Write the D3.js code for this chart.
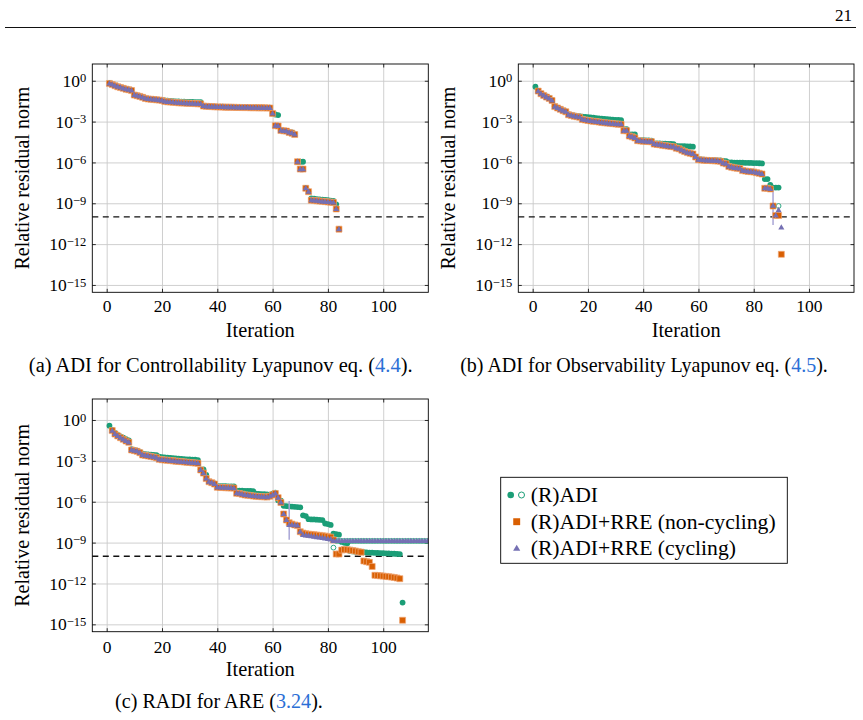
<!DOCTYPE html>
<html>
<head>
<meta charset="utf-8">
<script src="https://cdn.jsdelivr.net/npm/d3@7"></script>
<style>
  body { margin: 0; background: #fff; }
  svg { display: block; }
  text { font-family: 'Liberation Serif', 'DejaVu Serif', 'Times New Roman', serif; fill: #000; }
</style>
</head>
<body>
<svg id="page" width="863" height="720"></svg>
<script>
const colADI = '#1b9e77'
const colRRE = '#d95f02'
const colCyc = '#7570b3'
const linkBlue = '#2b6fd6'
const serif = "'Liberation Serif', 'DejaVu Serif', 'Times New Roman', serif"

const xTicks = [0, 20, 40, 60, 80, 100]
const yTickExps = [0, -3, -6, -9, -12, -15]
const tolerance = 1e-10

// values are log10 of the relative residual norm, one per iteration from *Start

// (a) controllability Lyapunov
const ctrlAdiStart = 1
const ctrlAdi = [-0.15, -0.26, -0.34, -0.42, -0.48, -0.54, -0.6, -0.64, -0.7,
  -1.03, -1.08, -1.13, -1.2, -1.28, -1.32, -1.34, -1.36, -1.38, -1.4, -1.42,
  -1.45, -1.47, -1.48, -1.5, -1.51, -1.52, -1.53, -1.54, -1.55, -1.56, -1.56, -1.57, -1.57, -1.58,
  -1.84, -1.86, -1.87, -1.88, -1.89, -1.9, -1.91, -1.91, -1.92, -1.92, -1.93, -1.93, -1.94, -1.94, -1.95, -1.95, -1.95, -1.96, -1.96, -1.96, -1.97, -1.97, -1.97, -1.98, -1.98,
  -2.4, -2.48, -2.52, -3.63, -3.66, -3.68, -3.76, -3.8, -3.9,
  -5.95, -5.95, -5.95, -7.88, -8.12,
  -8.65, -8.67, -8.69, -8.71, -8.73, -8.75, -8.77, -8.8, -8.83, -9.08, -10.9]
const ctrlRreStart = 1
const ctrlRre = [-0.2, -0.28, -0.36, -0.44, -0.5, -0.56, -0.62, -0.66, -0.72,
  -1.05, -1.1, -1.15, -1.22, -1.3, -1.34, -1.36, -1.38, -1.4, -1.42, -1.45,
  -1.52, -1.55, -1.56, -1.58, -1.6, -1.62, -1.63, -1.64, -1.65, -1.66, -1.67, -1.68, -1.69, -1.7,
  -1.86, -1.88, -1.89, -1.9, -1.91, -1.92, -1.93, -1.93, -1.94, -1.94, -1.95, -1.95, -1.96, -1.96, -1.97, -1.97, -1.97, -1.98, -1.98, -1.98, -1.99, -1.99, -1.99, -2.0, -2.0,
  -2.4, -3.3, -3.32, -3.65, -3.68, -3.7, -3.8, -3.85, -3.95,
  -5.95, -6.49, -6.49, -7.9, -8.15,
  -8.78, -8.8, -8.82, -8.84, -8.86, -8.88, -8.9, -8.92, -8.94, -9.42, -10.9]
const ctrlCycStart = 1
const ctrlCyc = [-0.2, -0.28, -0.36, -0.44, -0.5, -0.56, -0.62, -0.66, -0.72,
  -1.05, -1.1, -1.15, -1.22, -1.3, -1.34, -1.36, -1.38, -1.4, -1.42, -1.45,
  -1.52, -1.55, -1.56, -1.58, -1.6, -1.62, -1.63, -1.64, -1.65, -1.66, -1.67, -1.68, -1.69, -1.7,
  -1.86, -1.88, -1.89, -1.9, -1.91, -1.92, -1.93, -1.93, -1.94, -1.94, -1.95, -1.95, -1.96, -1.96, -1.97, -1.97, -1.97, -1.98, -1.98, -1.98, -1.99, -1.99, -1.99, -2.0, -2.0,
  -2.4, -3.3, -3.32, -3.65, -3.68, -3.7, -3.8, -3.85, -3.95,
  -5.95, -6.49, -6.49, -7.9, -8.15,
  -8.78, -8.8, -8.82, -8.84, -8.86, -8.88, -8.9, -8.92, -8.94, -9.42, -10.9]
const ctrlOpenIter = []
const ctrlOpen = []
const ctrlSpikes = []

// (b) observability Lyapunov
const obsAdiStart = 1
const obsAdi = [-0.44,
  -0.74, -0.93, -1.05, -1.15, -1.25, -1.4,
  -1.88, -1.98, -2.08, -2.18, -2.25,
  -2.45, -2.5, -2.55, -2.58, -2.6,
  -2.64, -2.66, -2.68, -2.7, -2.72, -2.74, -2.76, -2.78, -2.8, -2.82, -2.84, -2.86, -2.87, -2.88, -2.9,
  -3.55, -3.55, -3.94, -3.94, -3.95,
  -4.35, -4.36, -4.37, -4.38, -4.39, -4.4,
  -4.6, -4.6, -4.61, -4.62, -4.62, -4.63, -4.64, -4.65,
  -4.79, -4.8, -4.8, -4.81, -4.82, -4.83, -4.84,
  -5.58, -5.75,
  -5.78, -5.8, -5.81, -5.82, -5.83, -5.84, -5.85, -5.86, -5.88, -5.9,
  -6.0, -6.0, -6.01, -6.01, -6.02, -6.02, -6.03, -6.03, -6.04, -6.05, -6.05, -6.06, -6.07,
  -7.22, -7.22, -7.66, -7.85, -7.85, -7.85]
const obsRreStart = 2
const obsRre = [-0.76, -0.95, -1.08, -1.2, -1.3, -1.45,
  -1.9, -2.0, -2.1, -2.2, -2.28,
  -2.5, -2.55, -2.6, -2.64, -2.68,
  -2.84, -2.88, -2.92, -2.95, -2.98, -3.0, -3.03, -3.06, -3.09, -3.11, -3.13, -3.15, -3.17, -3.19, -3.2,
  -3.67, -3.67, -4.06, -4.12, -4.2,
  -4.4, -4.42, -4.44, -4.46, -4.47, -4.48,
  -4.65, -4.68, -4.7, -4.74, -4.77, -4.8, -4.83, -4.85,
  -4.95, -5.0, -5.1, -5.2, -5.28, -5.33, -5.38,
  -5.6, -5.8,
  -5.82, -5.84, -5.85, -5.86, -5.87, -5.88, -5.9, -5.92, -6.05, -6.1,
  -6.3, -6.35, -6.4, -6.42, -6.45,
  -6.6, -6.63, -6.66, -6.68, -6.7, -6.75, -6.8, -6.85,
  -7.9, -7.9, -7.95,
  -9.2, -9.9, -9.9, -12.75]
const obsCycStart = 2
const obsCyc = [-0.76, -0.95, -1.08, -1.2, -1.3, -1.45,
  -1.9, -2.0, -2.1, -2.2, -2.28,
  -2.5, -2.55, -2.6, -2.64, -2.68,
  -2.84, -2.88, -2.92, -2.95, -2.98, -3.0, -3.03, -3.06, -3.09, -3.11, -3.13, -3.15, -3.17, -3.19, -3.2,
  -3.67, -3.67, -4.06, -4.12, -4.2,
  -4.4, -4.42, -4.44, -4.46, -4.47, -4.48,
  -4.65, -4.68, -4.7, -4.74, -4.77, -4.8, -4.83, -4.85,
  -4.95, -5.0, -5.1, -5.2, -5.28, -5.33, -5.38,
  -5.6, -5.8,
  -5.82, -5.84, -5.85, -5.86, -5.87, -5.88, -5.9, -5.92, -6.05, -6.1,
  -6.3, -6.35, -6.4, -6.42, -6.45,
  -6.6, -6.63, -6.66, -6.68, -6.7, -6.75, -6.8, -6.85,
  -7.9, -7.9, -7.95,
  -9.17, -9.9, -9.5, -10.77]
const obsOpenIter = [89]
const obsOpen = [-9.2]
const obsSpikes = [[87, -7.9, -10.6]]

// (c) RADI for ARE
const areAdiStart = 1
const areAdi = [-0.42, -0.72, -0.95, -1.1, -1.2, -1.3, -1.4, -1.5,
  -2.15, -2.2, -2.25, -2.35,
  -2.48, -2.5, -2.52, -2.54, -2.56, -2.58,
  -2.7, -2.72, -2.74, -2.76, -2.78, -2.8, -2.82, -2.84, -2.86, -2.88, -2.89, -2.9, -2.91, -2.92, -2.94,
  -3.62, -3.62, -4.04, -4.5, -4.6, -4.65,
  -4.85, -4.85, -4.86, -4.86, -4.87, -4.87, -4.88,
  -5.18, -5.18, -5.19, -5.2, -5.2, -5.21, -5.22,
  -5.4, -5.42, -5.44, -5.45, -5.47, -5.48, -5.4, -5.33,
  -5.9, -5.92,
  -6.3, -6.32, -6.34, -6.36, -6.38, -6.4, -6.42,
  -7.0, -7.05,
  -7.28, -7.3, -7.3, -7.32, -7.33, -7.35,
  -7.6, -7.64, -7.7,
  -8.35, -8.38, -8.42,
  -8.95, -9.02, -9.05,
  -9.62, -9.65, -9.67, -9.68, -9.7, -9.71, -9.72, -9.73, -9.74, -9.75, -9.76, -9.77, -9.78, -9.79, -9.8, -9.81, -9.82, -9.83, -9.84,
  -13.4]
const areRreStart = 2
const areRre = [-0.78, -1.03, -1.17, -1.3, -1.42, -1.54, -1.64,
  -2.2, -2.25, -2.3, -2.4,
  -2.57, -2.6, -2.64, -2.68, -2.72, -2.77,
  -2.89, -2.92, -2.94, -2.96, -2.98, -3.0, -3.02, -3.04, -3.06, -3.08, -3.1, -3.12, -3.14, -3.16, -3.18,
  -3.67, -3.9, -4.3, -4.53, -4.6, -4.7,
  -4.94, -4.95, -4.96, -4.97, -4.98, -4.99, -5.0,
  -5.38, -5.4, -5.45, -5.5, -5.52, -5.55, -5.58,
  -5.6, -5.62, -5.63, -5.64, -5.66, -5.6, -5.5, -5.4,
  -5.7, -6.05, -6.9, -7.34, -7.54, -7.64, -7.7, -7.75, -8.2,
  -8.3, -8.35, -8.38, -8.4, -8.42, -8.45, -8.47, -8.5, -8.52, -8.55, -8.6,
  -8.81, -9.84, -9.84, -9.55, -9.5, -9.52, -9.55, -9.58, -9.62, -9.67, -9.7,
  -10.35, -10.4, -10.45, -10.75,
  -11.4, -11.42, -11.44, -11.46, -11.48, -11.5, -11.53, -11.56, -11.6, -11.65,
  -14.7]
const areCycStart = 2
const areCyc = [-0.78, -1.03, -1.17, -1.3, -1.42, -1.54, -1.64,
  -2.2, -2.25, -2.3, -2.4,
  -2.57, -2.6, -2.64, -2.68, -2.72, -2.77,
  -2.89, -2.92, -2.94, -2.96, -2.98, -3.0, -3.02, -3.04, -3.06, -3.08, -3.1, -3.12, -3.14, -3.16, -3.18,
  -3.67, -3.9, -4.3, -4.53, -4.6, -4.7,
  -4.94, -4.95, -4.96, -4.97, -4.98, -4.99, -5.0,
  -5.38, -5.4, -5.45, -5.5, -5.52, -5.55, -5.58,
  -5.6, -5.62, -5.63, -5.64, -5.66, -5.6, -5.5, -5.4,
  -5.7, -6.05, -6.9, -7.34, -7.7, -7.7, -7.72, -7.75, -8.2,
  -8.44, -8.47, -8.5, -8.53, -8.56, -8.6, -8.63, -8.66, -8.7, -8.73, -8.76,
  -8.88, -8.88, -8.88, -8.88, -8.88, -8.88, -8.88, -8.88, -8.88, -8.88,
  -8.88, -8.88, -8.88, -8.88, -8.88, -8.88, -8.88, -8.88, -8.88, -8.88,
  -8.88, -8.88, -8.88, -8.88, -8.88, -8.88, -8.88, -8.88, -8.88, -8.88,
  -8.88, -8.88, -8.88, -8.88, -8.88]
const areOpenIter = [82, 83, 84, 85, 86, 87, 88, 89, 90, 91, 92, 93, 94, 95, 96, 97, 98, 99, 100,
  101, 102, 103, 104, 105, 106, 107, 108, 109, 110, 111, 112, 113, 114, 115, 116]
const areOpen = [-9.37, -8.88, -8.88, -8.88, -8.88, -8.88, -8.88, -8.88, -8.88, -8.88, -8.88,
  -8.88, -8.88, -8.88, -8.88, -8.88, -8.88, -8.88, -8.88, -8.88, -8.88, -8.88, -8.88, -8.88,
  -8.88, -8.88, -8.88, -8.88, -8.88, -8.88, -8.88, -8.88, -8.88, -8.88, -8.88]
const areSpikes = [[66, -5.95, -8.8]]

const svg = d3.select('#page')

// scale a text's font so that it spans the width measured on the page
function fitWidth (sel, target) {
  const node = sel.node()
  const fs = parseFloat(sel.style('font-size'))
  const len = node.getComputedTextLength()
  if (len > 0) sel.style('font-size', (fs * target / len).toFixed(2) + 'px')
  return sel
}

// running header
svg.append('text').attr('x', 852).attr('y', 21).attr('text-anchor', 'end')
  .style('font-size', '17px').text('21')
svg.append('line').attr('x1', 5).attr('x2', 856).attr('y1', 27.5).attr('y2', 27.5)
  .attr('stroke', '#111').attr('stroke-width', 1)

function toPoints (start, vals) {
  return vals.map((v, i) => ({ it: start + i, r: Math.pow(10, v) }))
}

function drawPanel (p) {
  const x = d3.scaleLinear().domain([-5.2, 116.3]).range([p.left, p.right])
  const y = d3.scaleLog().domain([Math.pow(10, -15.54), Math.pow(10, p.ymaxExp)]).range([p.bottom, p.top])
  const w = p.right - p.left
  const h = p.bottom - p.top
  const g = svg.append('g')

  // grid
  g.append('g').attr('transform', `translate(0,${p.bottom})`)
    .call(d3.axisBottom(x).tickValues(xTicks).tickSize(-h).tickFormat(''))
    .call(s => s.select('.domain').remove())
    .call(s => s.selectAll('line').attr('stroke', '#c9c9c9').attr('stroke-width', 0.9))
  g.append('g').attr('transform', `translate(${p.left},0)`)
    .call(d3.axisLeft(y).tickValues(yTickExps.map(e => Math.pow(10, e))).tickSize(-w).tickFormat(''))
    .call(s => s.select('.domain').remove())
    .call(s => s.selectAll('line').attr('stroke', '#c9c9c9').attr('stroke-width', 0.9))

  // inner ticks on all four sides
  const tk = 3.5
  const xb = g.append('g').attr('transform', `translate(0,${p.bottom})`)
    .call(d3.axisBottom(x).tickValues(xTicks).tickSize(-tk).tickPadding(7))
  const xt = g.append('g').attr('transform', `translate(0,${p.top})`)
    .call(d3.axisTop(x).tickValues(xTicks).tickSize(-tk).tickFormat(''))
  const yl = g.append('g').attr('transform', `translate(${p.left},0)`)
    .call(d3.axisLeft(y).tickValues(yTickExps.map(e => Math.pow(10, e))).tickSize(-tk).tickPadding(6))
  const yr = g.append('g').attr('transform', `translate(${p.right},0)`)
    .call(d3.axisRight(y).tickValues(yTickExps.map(e => Math.pow(10, e))).tickSize(-tk).tickFormat(''))
  ;[xb, xt, yl, yr].forEach(a => {
    a.attr('font-family', null).attr('font-size', null)
    a.select('.domain').remove()
    a.selectAll('line').attr('stroke', '#000').attr('stroke-width', 0.8)
  })
  xb.selectAll('text').attr('y', p.xLabelDy).attr('dy', null)
    .style('font-size', '17.5px').style('font-family', serif).attr('fill', '#000')
  yl.selectAll('text').each(function (d) {
    const t = d3.select(this)
    const ex = Math.round(Math.log10(d))
    t.text(null).attr('dy', null).attr('y', 5.6).attr('x', -6)
      .style('font-size', '17.5px').style('font-family', serif).attr('fill', '#000')
    t.append('tspan').text('10')
    t.append('tspan').attr('dy', -4.5).style('font-size', '12.5px')
      .text(ex === 0 ? '0' : '\u2212' + Math.abs(ex))
  })

  // axis labels
  fitWidth(g.append('text').attr('x', (p.left + p.right) / 2).attr('y', p.bottom + 44.5)
    .attr('text-anchor', 'middle').style('font-size', '20px').text('Iteration'), 69)
  fitWidth(g.append('text')
    .attr('transform', `translate(${p.left - 70},${(p.top + p.bottom) / 2}) rotate(-90)`)
    .attr('dy', '0.33em').attr('text-anchor', 'middle').style('font-size', '20px')
    .text('Relative residual norm'), 183)

  // tolerance
  g.append('line').attr('x1', p.left).attr('x2', p.right)
    .attr('y1', y(tolerance)).attr('y2', y(tolerance))
    .attr('stroke', '#111').attr('stroke-width', 1.4).attr('stroke-dasharray', '6,4.5')

  const clip = 'clip' + p.id
  svg.append('clipPath').attr('id', clip).append('rect')
    .attr('x', p.left).attr('y', p.top).attr('width', w).attr('height', h)
  const m = g.append('g').attr('clip-path', `url(#${clip})`)

  // ADI circles
  m.append('g').selectAll('circle').data(toPoints(p.adiStart, p.adi)).join('circle')
    .attr('cx', d => x(d.it)).attr('cy', d => y(d.r)).attr('r', 2.9).attr('fill', colADI)
  m.append('g').selectAll('circle')
    .data(p.openIter.map((it, i) => ({ it, r: Math.pow(10, p.open[i]) }))).join('circle')
    .attr('cx', d => x(d.it)).attr('cy', d => y(d.r)).attr('r', 2.4)
    .attr('fill', '#fff').attr('stroke', colADI).attr('stroke-width', 0.9)
  // cycling spikes
  m.append('g').selectAll('line').data(p.spikes).join('line')
    .attr('x1', d => x(d[0])).attr('x2', d => x(d[0]))
    .attr('y1', d => y(Math.pow(10, d[1]))).attr('y2', d => y(Math.pow(10, d[2])))
    .attr('stroke', '#a9a6d6').attr('stroke-width', 1.5)
  // RRE squares
  const sq = d3.symbol().type(d3.symbolSquare).size(36)
  m.append('g').selectAll('path').data(toPoints(p.rreStart, p.rre)).join('path')
    .attr('d', sq).attr('transform', d => `translate(${x(d.it)},${y(d.r)})`)
    .attr('fill', colRRE).attr('stroke', '#f0a877').attr('stroke-width', 0.7)
  // cycling triangles
  const tri = d3.symbol().type(d3.symbolTriangle).size(16)
  m.append('g').selectAll('path').data(toPoints(p.cycStart, p.cyc)).join('path')
    .attr('d', tri).attr('transform', d => `translate(${x(d.it)},${y(d.r) + 0.3})`)
    .attr('fill', colCyc)

  // frame
  g.append('rect').attr('x', p.left).attr('y', p.top).attr('width', w).attr('height', h)
    .attr('fill', 'none').attr('stroke', '#000').attr('stroke-width', 0.9)
}

drawPanel({ id: 'a', left: 92.3, right: 428.3, top: 64, bottom: 292.3, ymaxExp: 1.23, xLabelDy: 19.5,
  adiStart: ctrlAdiStart, adi: ctrlAdi, rreStart: ctrlRreStart, rre: ctrlRre, cycStart: ctrlCycStart, cyc: ctrlCyc,
  openIter: ctrlOpenIter, open: ctrlOpen, spikes: ctrlSpikes })
drawPanel({ id: 'b', left: 518.3, right: 854, top: 64, bottom: 292.3, ymaxExp: 1.23, xLabelDy: 19.5,
  adiStart: obsAdiStart, adi: obsAdi, rreStart: obsRreStart, rre: obsRre, cycStart: obsCycStart, cyc: obsCyc,
  openIter: obsOpenIter, open: obsOpen, spikes: obsSpikes })
drawPanel({ id: 'c', left: 92.3, right: 428.3, top: 399, bottom: 631.7, ymaxExp: 1.54, xLabelDy: 21.5,
  adiStart: areAdiStart, adi: areAdi, rreStart: areRreStart, rre: areRre, cycStart: areCycStart, cyc: areCyc,
  openIter: areOpenIter, open: areOpen, spikes: areSpikes })

// captions
function caption (cx, by, pre, ref, post, width) {
  const t = svg.append('text').attr('x', cx).attr('y', by).attr('text-anchor', 'middle').style('font-size', '20px')
  t.append('tspan').text(pre)
  t.append('tspan').attr('fill', linkBlue).style('fill', linkBlue).text(ref)
  t.append('tspan').text(post)
  fitWidth(t, width)
}
caption(220.7, 372, '(a) ADI for Controllability Lyapunov eq. (', '4.4', ').', 384)
caption(644, 372, '(b) ADI for Observability Lyapunov eq. (', '4.5', ').', 368)
caption(219, 708, '(c) RADI for ARE (', '3.24', ').', 208)

// legend
const lg = svg.append('g')
lg.append('rect').attr('x', 500.7).attr('y', 477.3).attr('width', 286.6).attr('height', 86)
  .attr('fill', '#fff').attr('stroke', '#000').attr('stroke-width', 0.9)
const legendRows = ['(R)ADI', '(R)ADI+RRE (non-cycling)', '(R)ADI+RRE (cycling)']
const rowY = [495, 521.7, 548.3]
lg.append('circle').attr('cx', 510.7).attr('cy', rowY[0]).attr('r', 3.3).attr('fill', colADI)
lg.append('circle').attr('cx', 521.5).attr('cy', rowY[0]).attr('r', 3).attr('fill', '#fff')
  .attr('stroke', colADI).attr('stroke-width', 1)
lg.append('path').attr('d', d3.symbol().type(d3.symbolSquare).size(48))
  .attr('transform', `translate(516.7,${rowY[1]})`).attr('fill', colRRE)
lg.append('path').attr('d', d3.symbol().type(d3.symbolTriangle).size(22))
  .attr('transform', `translate(516.7,${rowY[2] + 0.5})`).attr('fill', colCyc)
const rows = lg.selectAll('text.row').data(legendRows).join('text').attr('class', 'row')
  .attr('x', 530.7).attr('y', (d, i) => rowY[i] + 6.8).style('font-size', '21px').text(d => d)
// fit the longest row, use the same size for all three
fitWidth(rows.filter((d, i) => i === 1), 245)
rows.style('font-size', rows.filter((d, i) => i === 1).style('font-size'))
</script>
</body>
</html>
